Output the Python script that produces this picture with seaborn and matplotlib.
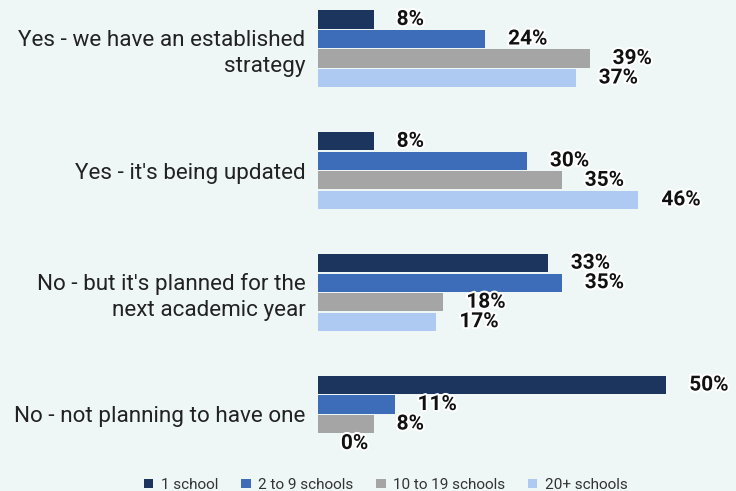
import matplotlib
matplotlib.use("Agg")
import matplotlib.pyplot as plt
import matplotlib.patheffects as pe
import pandas as pd
import seaborn as sns

categories = [
    "Yes - we have an established\nstrategy",
    "Yes - it's being updated",
    "No - but it's planned for the\nnext academic year",
    "No - not planning to have one",
]
series = ["1 school", "2 to 9 schools", "10 to 19 schools", "20+ schools"]
one_school = [8, 8, 33, 50]
two_to_nine = [24, 30, 35, 11]
ten_to_nineteen = [39, 35, 18, 8]
twenty_plus = [37, 46, 17, 0]
colors = ["#1c355e", "#3d6cb8", "#a5a5a5", "#aec9f2"]

rows = []
for name, vals in zip(series, [one_school, two_to_nine, ten_to_nineteen, twenty_plus]):
    for cat, v in zip(categories, vals):
        rows.append({"category": cat, "group": name, "value": v})
df = pd.DataFrame(rows)

bg = "#eef7f6"
sns.set_theme(style="white")
plt.rcParams["font.family"] = ["Roboto", "DejaVu Sans"]

fig = plt.figure(figsize=(7.36, 4.91), dpi=100, facecolor=bg)
ax = fig.add_axes([318 / 736, 28 / 491, 418 / 736, 463 / 491])
ax.set_facecolor(bg)

sns.barplot(
    data=df, x="value", y="category", hue="group", orient="h",
    order=categories, hue_order=series, palette=colors,
    width=0.64, gap=0.07, ax=ax, legend=True, saturation=1, linewidth=0,
)

ax.set_xlim(0, 60)
ax.set_ylim(3.4, -0.4)
ax.set_xlabel("")
ax.set_ylabel("")
ax.set_xticks([])
for s in ax.spines.values():
    s.set_visible(False)
ax.tick_params(axis="y", length=0, pad=9, labelsize=16.2, labelcolor="#222222")
for t in ax.get_yticklabels():
    t.set_linespacing(1.3)

for cont in ax.containers:
    labels = ax.bar_label(
        cont, fmt="%.0f%%", padding=16.5, fontsize=15, fontweight="bold",
        color="#111111",
    )
    for lab in labels:
        lab.set_path_effects([pe.withStroke(linewidth=3, foreground="white")])

handles, labs = ax.get_legend_handles_labels()
ax.legend_.remove()
fig.legend(
    handles, labs, loc="center", bbox_to_anchor=(386 / 736, 6 / 491), ncol=4,
    frameon=False, fontsize=11, handlelength=0.6, handleheight=0.6,
    handletextpad=0.5, columnspacing=1.5, labelcolor="#333333",
)

fig.savefig("out.png", dpi=100, facecolor=bg)
